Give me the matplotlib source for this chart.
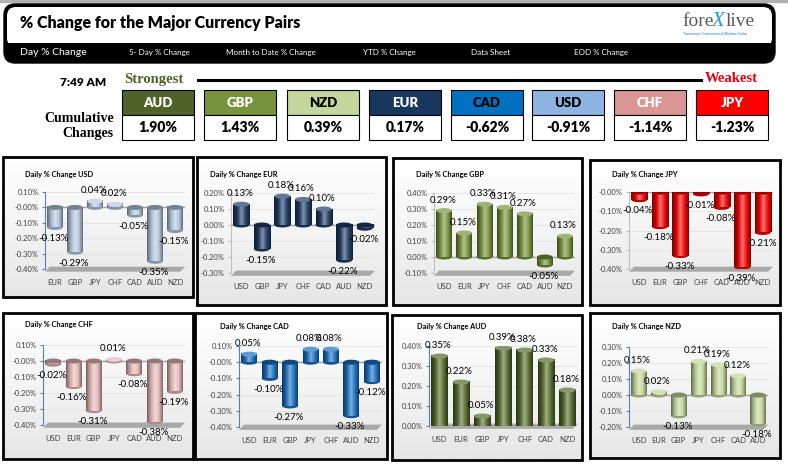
import numpy as np
import matplotlib
matplotlib.use('Agg')
import matplotlib.pyplot as plt
from matplotlib.patches import Rectangle, FancyBboxPatch, Ellipse, Polygon
from matplotlib.colors import LinearSegmentedColormap, to_rgb

plt.rcParams['font.family'] = ['Lato', 'DejaVu Sans']
BOLDF = ['Lato', 'DejaVu Sans']
SERIF = ['Liberation Serif', 'DejaVu Serif']

W, H = 788, 466

# menu bar
menu_items = ['5- Day % Change', 'Month to Date % Change', 'YTD % Change', 'Data Sheet', 'EOD % Change']

# cumulative changes, strongest -> weakest
ranked = ['AUD', 'GBP', 'NZD', 'EUR', 'CAD', 'USD', 'CHF', 'JPY']
cumulative = [1.90, 1.43, 0.39, 0.17, -0.62, -0.91, -1.14, -1.23]

# daily % change panels
usd_cats = ['EUR', 'GBP', 'JPY', 'CHF', 'CAD', 'AUD', 'NZD']
usd_vals = [-0.13, -0.29, 0.04, 0.02, -0.05, -0.35, -0.15]
eur_cats = ['USD', 'GBP', 'JPY', 'CHF', 'CAD', 'AUD', 'NZD']
eur_vals = [0.13, -0.15, 0.18, 0.16, 0.10, -0.22, -0.02]
gbp_cats = ['USD', 'EUR', 'JPY', 'CHF', 'CAD', 'AUD', 'NZD']
gbp_vals = [0.29, 0.15, 0.33, 0.31, 0.27, -0.05, 0.13]
jpy_cats = ['USD', 'EUR', 'GBP', 'CHF', 'CAD', 'AUD', 'NZD']
jpy_vals = [-0.04, -0.18, -0.33, -0.01, -0.08, -0.39, -0.21]
chf_cats = ['USD', 'EUR', 'GBP', 'JPY', 'CAD', 'AUD', 'NZD']
chf_vals = [-0.02, -0.16, -0.31, 0.01, -0.08, -0.38, -0.19]
cad_cats = ['USD', 'EUR', 'GBP', 'JPY', 'CHF', 'AUD', 'NZD']
cad_vals = [0.05, -0.10, -0.27, 0.08, 0.08, -0.33, -0.12]
aud_cats = ['USD', 'EUR', 'GBP', 'JPY', 'CHF', 'CAD', 'NZD']
aud_vals = [0.35, 0.22, 0.05, 0.39, 0.38, 0.33, 0.18]
nzd_cats = ['USD', 'EUR', 'GBP', 'JPY', 'CHF', 'CAD', 'AUD']
nzd_vals = [0.15, 0.02, -0.13, 0.21, 0.19, 0.12, -0.18]

# colours
box_colors = ['#4F6228', '#77933C', '#C3D69B', '#17375E', '#0070C0', '#8DB4E2', '#D99694', '#FF0000']
box_text = ['white', 'white', 'black', 'white', 'black', 'black', 'white', 'white']
box_x = [122, 204, 287, 369, 451, 532, 614, 696]

# name, cats, vals, bar colour, ylim, axis colour, panel box, plot box (L,R,T,B), title xy
panels = [
    ('USD', usd_cats, usd_vals, '#B4C8E0', (-0.40, 0.10), '#4F81BD', (3, 157, 193, 297), (45, 185, 192, 269), (25, 174)),
    ('EUR', eur_cats, eur_vals, '#1F3B63', (-0.30, 0.20), '#BFBFBF', (197, 157, 386, 305), (231, 375, 193, 273), (210, 175)),
    ('GBP', gbp_cats, gbp_vals, '#77933C', (-0.10, 0.40), '#BFBFBF', (393, 158, 582, 305), (434, 575, 193, 273), (416, 175)),
    ('JPY', jpy_cats, jpy_vals, '#F00000', (-0.40, 0.00), '#BFBFBF', (590, 160, 780, 305), (629, 773, 192, 269), (612, 175)),
    ('CHF', chf_cats, chf_vals, '#E6B9B8', (-0.40, 0.10), '#4F81BD', (3, 313, 193, 459), (43, 185, 345, 425), (25, 325)),
    ('CAD', cad_cats, cad_vals, '#1A6FC0', (-0.40, 0.10), '#4F81BD', (195, 313, 387, 459), (239, 382, 346, 427), (220, 327)),
    ('AUD', aud_cats, aud_vals, '#556B2A', (0.00, 0.40), '#4F81BD', (392, 315, 582, 460), (429, 578, 346, 426), (417, 327)),
    ('NZD', nzd_cats, nzd_vals, '#C3D69B', (-0.20, 0.30), '#4F81BD', (590, 313, 780, 458), (629, 768, 347, 427), (612, 327)),
]


def shade(c, f):
    r = np.array(to_rgb(c))
    if f > 0:
        return tuple(r + (1 - r) * f)
    return tuple(r * (1 + f))


fig = plt.figure(figsize=(W / 100, H / 100), dpi=100)
bg = fig.add_axes([0, 0, 1, 1])
bg.axis('off')

# header
bg.add_patch(Rectangle((0, 0), W, 2, color='#B0B0B0', zorder=1))
bg.add_patch(FancyBboxPatch((4, 4), 771, 59, boxstyle='round,pad=0,rounding_size=11', fc='black', ec='black', zorder=1))
bg.add_patch(FancyBboxPatch((7, 7), 765, 40, boxstyle='round,pad=0,rounding_size=9', fc='white', ec='none', zorder=1))
bg.add_patch(Rectangle((7, 43), 765, 6, fc='black', ec='none', zorder=1))
bg.text(20, 23, '% Change for the Major Currency Pairs', fontsize=11.5, fontweight='heavy', family=BOLDF, va='center', zorder=4)
bg.text(20, 52.5, 'Day % Change', color='white', fontsize=7.5, va='center', zorder=4)
for x, s in zip([129, 226, 363, 471, 574], menu_items):
    bg.text(x, 52.5, s, color='white', fontsize=5.8, va='center', zorder=4)

# logo
bg.text(682, 22, 'fore', fontsize=14, family=SERIF, color='#5A5A5A', va='center', zorder=4)
bg.text(712, 21, 'X', fontsize=15, family=SERIF, color='#1E9BD7', va='center', style='italic', zorder=4)
bg.text(726, 22, 'live', fontsize=14, family=SERIF, color='#5A5A5A', va='center', zorder=4)
bg.text(683, 34, "Tomorrow's Conventional Wisdom Today", fontsize=2.5, color='#1F6FB5', va='center', zorder=4)

# strongest / weakest row
bg.text(60, 82, '7:49 AM', fontsize=8.5, fontweight='heavy', family=BOLDF, va='center', zorder=4)
bg.text(124, 79, 'Strongest', fontsize=10.5, fontweight='bold', family=SERIF, color='#4F6228', va='center', zorder=4)
bg.plot([198, 701], [79.5, 79.5], color='black', lw=2.2, zorder=3)
bg.text(758, 79, 'Weakest', fontsize=10.5, fontweight='bold', family=SERIF, color='#E8000D', va='center', ha='right', zorder=4)
bg.text(114, 118, 'Cumulative', fontsize=10, fontweight='bold', family=SERIF, va='center', ha='right', zorder=4)
bg.text(114, 134, 'Changes', fontsize=10, fontweight='bold', family=SERIF, va='center', ha='right', zorder=4)

for x, cur, val, fc, tc in zip(box_x, ranked, cumulative, box_colors, box_text):
    bg.add_patch(Rectangle((x, 90), 72, 25, fc=fc, ec='black', lw=0.8, zorder=2))
    bg.add_patch(Rectangle((x, 115), 72, 25, fc='white', ec='black', lw=0.8, zorder=2))
    bg.text(x + 36, 103, cur, fontsize=9.5, fontweight='heavy', family=BOLDF, color=tc, ha='center', va='center', zorder=4)
    bg.text(x + 36, 128, f'{val:.2f}%', fontsize=10, fontweight='heavy', family=BOLDF, ha='center', va='center', zorder=4)

# panels
cm_bg = LinearSegmentedColormap.from_list('panelbg', ['#FFFFFF', '#F4F4F4', '#E6E6E6'])
grad_v = np.linspace(0, 1, 64).reshape(-1, 1)
grad_h = np.linspace(0, 1, 64).reshape(1, -1)
for name, cats, vals, col, (ylo, yhi), spine_c, box, plot, tpos in panels:
    x0, y0, x1, y1 = box
    bg.imshow(grad_v, cmap=cm_bg, extent=(x0, x1, y1, y0), aspect='auto', zorder=1)
    bg.add_patch(Rectangle((x0, y0), x1 - x0, y1 - y0, fill=False, ec='black', lw=2, zorder=3))
    bg.text(tpos[0], tpos[1], 'Daily % Change ' + name, fontsize=5.3, fontweight='bold', va='center', zorder=4)

    L, R, T, B = plot
    ax = fig.add_axes([L / W, 1 - B / H, (R - L) / W, (B - T) / H])
    ax.set_facecolor('none')
    upp = (yhi - ylo) / (B - T)
    cm = LinearSegmentedColormap.from_list('bar' + name, [shade(col, -0.5), shade(col, -0.1), shade(col, 0.45),
                                                          shade(col, 0.05), shade(col, -0.45)])
    bw = 0.78
    for i, v in enumerate(vals):
        lo, hi = min(v, 0), max(v, 0)
        ax.add_patch(Ellipse((i, lo), bw, 5 * upp, fc=shade(col, -0.25), ec='none', zorder=2))
        ax.imshow(grad_h, cmap=cm, extent=(i - bw / 2, i + bw / 2, lo, hi), aspect='auto', zorder=2.2)
        capc = shade(col, 0.3) if v >= 0 else shade(col, -0.35)
        ax.add_patch(Ellipse((i, hi), bw, 5 * upp, fc=capc, ec='none', zorder=2.4))
        ax.annotate(f'{v:.2f}%', (i, v), xytext=(-1, 7.5 if v >= 0 else -8), textcoords='offset points',
                    ha='center', va='center', fontsize=7, annotation_clip=False, zorder=5)
    ax.axhline(0, color='#A0A0A0', lw=1, zorder=1.5)
    ax.add_patch(Polygon([(0.0, -0.035), (0.965, -0.035), (1.0, 0.03), (0.035, 0.03)], closed=True,
                         transform=ax.transAxes, fc='#A8A8A8', ec='none', clip_on=False, zorder=0.5))
    ax.set_xlim(-0.5, len(cats) - 0.5)
    ax.set_ylim(ylo, yhi)
    ticks = np.round(np.arange(ylo, yhi + 0.001, 0.1), 2)
    ax.set_yticks(ticks)
    ax.set_yticklabels([f'{t:.2f}%' for t in ticks], fontsize=5.5, color='#404040')
    ax.set_xticks(range(len(cats)))
    ax.set_xticklabels(cats, fontsize=5.5, color='#404040')
    ax.tick_params(axis='x', length=0, pad=7)
    ax.tick_params(axis='y', length=2.5, color=spine_c, pad=2)
    ax.yaxis.grid(True, color='#E2E2E2', lw=0.6)
    ax.set_axisbelow(True)
    for s in ['top', 'right', 'bottom']:
        ax.spines[s].set_visible(False)
    ax.spines['left'].set_color(spine_c)
    ax.spines['left'].set_linewidth(0.8)

bg.set_xlim(0, W)
bg.set_ylim(H, 0)

fig.savefig('out.png', dpi=100)
